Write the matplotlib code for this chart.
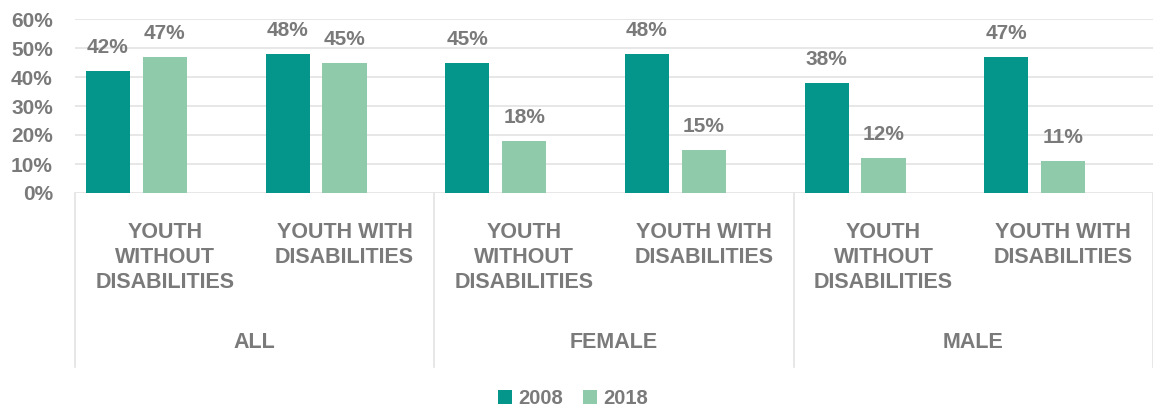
import matplotlib.pyplot as plt
import matplotlib.transforms as mtransforms
import numpy as np

plt.rcParams['font.family'] = ['Liberation Sans', 'DejaVu Sans']
plt.rcParams['font.weight'] = 'bold'

# data
groups = ['ALL', 'FEMALE', 'MALE']
subcats = ['YOUTH\nWITHOUT\nDISABILITIES', 'YOUTH WITH\nDISABILITIES'] * 3
years = ['2008', '2018']
vals_2008 = [42, 48, 45, 48, 38, 47]
vals_2018 = [47, 45, 18, 15, 12, 11]
yticks = [0, 10, 20, 30, 40, 50, 60]

c2008 = '#05968b'
c2018 = '#8fcaaa'
txt = '#7a7a7a'
grid = '#e3e3e3'

fig = plt.figure(figsize=(11.53, 4.12), dpi=100)
ax = fig.add_axes([75 / 1153, 1 - 193 / 412, 1 - 75 / 1153, 174 / 412])

x = np.arange(len(vals_2008))
w = 0.245
b1 = ax.bar(x - 0.317, vals_2008, w, color=c2008, label=years[0], zorder=3)
b2 = ax.bar(x, vals_2018, w, color=c2018, label=years[1], zorder=3)

for bars in (b1, b2):
    for r in bars:
        h = r.get_height()
        ax.annotate(f'{h:.0f}%', (r.get_x() + r.get_width() / 2, h),
                    xytext=(0, 10), textcoords='offset points',
                    ha='center', va='bottom', fontsize=15, color=txt)

ax.set_xlim(-0.5, 5.5)
ax.set_ylim(0, 60)
ax.set_yticks(yticks)
ax.set_yticklabels([f'{t}%' for t in yticks], fontsize=15, color=txt)
ax.tick_params(axis='y', length=0, pad=16)
ax.set_xticks([])
ax.yaxis.grid(True, color=grid, linewidth=1.2, zorder=0)
for s in ax.spines.values():
    s.set_visible(False)

# two-level category axis
trans = mtransforms.blended_transform_factory(ax.transData, ax.transAxes)
for i, lab in enumerate(subcats):
    ax.text(i, -0.165, lab, transform=trans, ha='center', va='top',
            fontsize=15.5, color=txt, linespacing=1.25)
for j, g in enumerate(groups):
    ax.text(2 * j + 0.5, -0.86, g, transform=trans, ha='center', va='center',
            fontsize=15.5, color=txt)
for xs in [-0.5, 1.5, 3.5, 5.5]:
    ax.plot([xs, xs], [0, -1.0], transform=trans, color=grid,
            linewidth=1.2, clip_on=False)

fig.legend(handles=[b1, b2], loc='center', bbox_to_anchor=(0.497, 0.032),
           ncol=2, frameon=False, fontsize=14.5, labelcolor=txt,
           handlelength=0.7, handleheight=0.7, handletextpad=0.3,
           columnspacing=1.0)

fig.savefig('out.png', dpi=100)
